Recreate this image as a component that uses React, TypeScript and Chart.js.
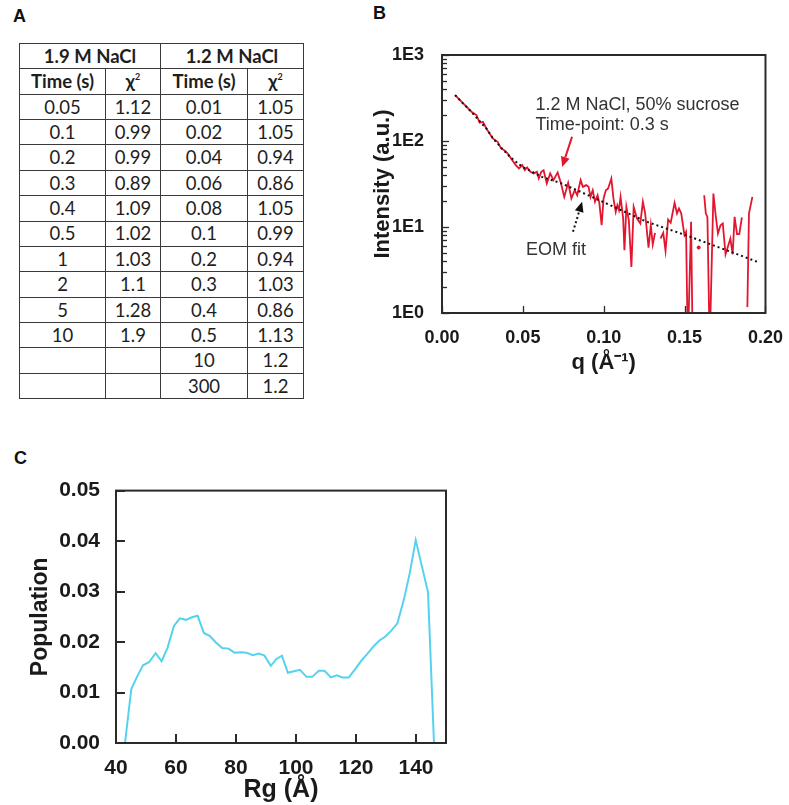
import React, { useEffect, useRef } from 'react';
import { Chart, registerables } from 'chart.js';

Chart.register(...registerables);

// ---------- Panel A: table ----------
const GROUPS = ['1.9 M NaCl', '1.2 M NaCl'];
const TIME_19 = ['0.05', '0.1', '0.2', '0.3', '0.4', '0.5', '1', '2', '5', '10', '', ''];
const CHI_19 = ['1.12', '0.99', '0.99', '0.89', '1.09', '1.02', '1.03', '1.1', '1.28', '1.9', '', ''];
const TIME_12 = ['0.01', '0.02', '0.04', '0.06', '0.08', '0.1', '0.2', '0.3', '0.4', '0.5', '10', '300'];
const CHI_12 = ['1.05', '1.05', '0.94', '0.86', '1.05', '0.99', '0.94', '1.03', '0.86', '1.13', '1.2', '1.2'];

// ---------- Panel B: SAXS curve (log intensity) ----------
const Q_DATA = [
  0.0081, 0.0131, 0.0182, 0.0213, 0.0233, 0.0253, 0.0274, 0.0314, 0.0344, 0.0365,
  0.0385, 0.0405, 0.0426, 0.0456, 0.0476, 0.0496, 0.0512, 0.0526, 0.0547, 0.0567,
  0.0587, 0.0598, 0.0614, 0.0628, 0.0648, 0.0669, 0.0689, 0.0715, 0.0736, 0.0756,
  0.078, 0.08, 0.0821, 0.0836, 0.0857, 0.0871, 0.0891, 0.0906, 0.0918, 0.0932,
  0.0946, 0.0962, 0.0973, 0.0987, 0.0999, 0.1013, 0.1027, 0.1047, 0.106, 0.1074,
  0.1084, 0.1094, 0.1104, 0.112, 0.1128, 0.114, 0.1155, 0.1171, 0.1185, 0.1205,
  0.1226, 0.1242, 0.1256, 0.1277, 0.1291, 0.1303, 0.1317, 0.1334, 0.1351, 0.1368,
  0.1382, 0.1398, 0.1414, 0.1438, 0.1453, 0.1465, 0.1479, 0.1499, 0.1509, 0.152,
  0.154, 0.155, 0.157, 0.1605, 0.1621, 0.1631, 0.1641, 0.1655, 0.1678, 0.1692,
  0.1706, 0.1722, 0.1736, 0.1753, 0.1783, 0.1797, 0.1809, 0.1824, 0.1838, 0.1854,
  0.187, 0.1888, 0.1898, 0.1919,
];
const I_DATA = [
  342, 274, 219, 200, 163, 167, 140, 107, 98, 82,
  78, 72, 63, 52.4, 48, 52.4, 45.8, 49.3, 43.8, 42,
  43.8, 36.7, 43.8, 45.8, 32.1, 42, 35.1, 43.1, 32.1, 22.4,
  32.6, 21.5, 26.8, 23.4, 35.1, 29.3, 30.7, 29.3, 22.4, 26.8,
  19.6, 23.4, 18.8, 10.5, 21.5, 26.8, 28.1, 36.7, 21.5, 15,
  17.9, 15.7, 22.4, 12.6, 5.37, 17.1, 12, 3.43, 17.1, 12.6,
  11, 19.6, 14.4, 5.77, 10.5, 6.25, 8.54, null, 7.35, 8.54,
  5.27, 12.2, 11.2, 19.1, 14.4, 16.4, 14.4, 8.03, 8.77, 0.4,
  11.5, 0.4, null, null, 23.4, 14.4, 13.1, 0.4, 24.5, 13.7,
  8.4, 10.5, 11, 4.82, 7.35, 4.82, 13.1, 8.25, 8.25, 12.9,
  null, 1.17, 14.4, 22.4,
];
const Q_DOT = [0.1587];
const I_DOT = [5.77];
const Q_FIT = [0.0081, 0.0131, 0.0182, 0.0233, 0.0274, 0.0314, 0.0365, 0.0426, 0.0496, 0.0618, 0.0739, 0.0902, 0.1064, 0.1266, 0.151, 0.1733, 0.1951];
const I_FIT = [342, 272, 218, 170, 140, 108, 84, 64, 50.1, 38.3, 32.1, 23.5, 17.1, 11.5, 8.0, 5.6, 3.93];
const Y_DECADES_B = [1, 10, 100, 1000];
const X_TICKS_B = [0, 0.05, 0.1, 0.15, 0.2];
const NOTE_LINES = ['1.2 M NaCl, 50% sucrose', 'Time-point: 0.3 s'];
const FIT_LABEL = 'EOM fit';

// ---------- Panel C: Rg distribution ----------
const RG = [
  43.0, 45.1, 47.0, 49.0, 51.0, 53.2, 55.2, 57.2, 59.3, 61.3,
  63.3, 65.3, 67.2, 69.3, 71.3, 73.3, 75.4, 77.5, 79.5, 81.5,
  83.5, 85.6, 87.6, 89.5, 91.6, 93.4, 95.3, 97.3, 99.3, 101.3,
  103.5, 105.4, 107.6, 109.5, 111.6, 113.6, 115.5, 117.6, 119.8, 121.9,
  123.7, 125.9, 127.8, 129.6, 131.7, 133.8, 136.0, 137.9, 139.9, 144.0, 146.0,
];
const POP = [
  0, 0.0107, 0.0131, 0.0154, 0.016, 0.0178, 0.0162, 0.0189, 0.0232, 0.0247,
  0.0244, 0.0249, 0.0252, 0.0218, 0.0212, 0.0199, 0.0188, 0.0187, 0.0179, 0.018,
  0.0179, 0.0174, 0.0177, 0.0173, 0.0153, 0.0166, 0.0173, 0.0139, 0.0142, 0.0145,
  0.0131, 0.0131, 0.0143, 0.0143, 0.013, 0.0134, 0.013, 0.013, 0.0147, 0.0164,
  0.0176, 0.0192, 0.0203, 0.021, 0.0222, 0.0237, 0.0285, 0.0336, 0.0402, 0.0299, 0,
];
const X_TICKS_C = [40, 60, 80, 100, 120, 140];
const Y_TICKS_C = [0, 0.01, 0.02, 0.03, 0.04, 0.05];

const RED = '#e4162f';
const CYAN = '#55d3ee';
const AXIS = '#2a2a2a';
const SANS = '"Liberation Sans", Arial, Helvetica, sans-serif';

function drawArrow(ctx: CanvasRenderingContext2D, x1: number, y1: number, x2: number, y2: number, color: string, dotted: boolean) {
  const ang = Math.atan2(y2 - y1, x2 - x1);
  const headLen = 10;
  const headW = 4.5;
  const bx = x2 - headLen * Math.cos(ang);
  const by = y2 - headLen * Math.sin(ang);
  ctx.save();
  ctx.strokeStyle = color;
  ctx.fillStyle = color;
  ctx.lineWidth = 2;
  if (dotted) ctx.setLineDash([2, 2.5]);
  ctx.beginPath();
  ctx.moveTo(x1, y1);
  ctx.lineTo(bx, by);
  ctx.stroke();
  ctx.setLineDash([]);
  ctx.beginPath();
  ctx.moveTo(x2, y2);
  ctx.lineTo(bx + headW * Math.sin(ang), by - headW * Math.cos(ang));
  ctx.lineTo(bx - headW * Math.sin(ang), by + headW * Math.cos(ang));
  ctx.closePath();
  ctx.fill();
  ctx.restore();
}

function SaxsChart() {
  const ref = useRef<HTMLCanvasElement | null>(null);
  useEffect(() => {
    if (!ref.current) return;
    const framePlugin = {
      id: 'frameB',
      afterDraw(chart: any) {
        const { ctx, chartArea: a, scales } = chart;
        const x = scales.x;
        const y = scales.y;
        ctx.save();
        // inward ticks
        ctx.strokeStyle = AXIS;
        ctx.lineWidth = 1.3;
        for (let d = 0; d < Y_DECADES_B.length - 1; d++) {
          for (let m = 2; m <= 9; m++) {
            const py = Math.round(y.getPixelForValue(m * Y_DECADES_B[d])) + 0.5;
            ctx.beginPath();
            ctx.moveTo(a.left, py);
            ctx.lineTo(a.left + 5, py);
            ctx.stroke();
          }
        }
        Y_DECADES_B.forEach((v) => {
          const py = Math.round(y.getPixelForValue(v)) + 0.5;
          ctx.beginPath();
          ctx.moveTo(a.left, py);
          ctx.lineTo(a.left + 7, py);
          ctx.stroke();
        });
        X_TICKS_B.forEach((v) => {
          const px = Math.round(x.getPixelForValue(v)) + 0.5;
          ctx.beginPath();
          ctx.moveTo(px, a.bottom);
          ctx.lineTo(px, a.bottom - 7);
          ctx.stroke();
        });
        // frame
        ctx.lineWidth = 2;
        ctx.strokeRect(a.left, a.top, a.right - a.left, a.bottom - a.top);
        // annotations
        ctx.fillStyle = '#333';
        ctx.font = '18px ' + SANS;
        ctx.textAlign = 'left';
        ctx.textBaseline = 'alphabetic';
        ctx.fillText(NOTE_LINES[0], x.getPixelForValue(0.0578), y.getPixelForValue(232));
        ctx.fillText(NOTE_LINES[1], x.getPixelForValue(0.0578), y.getPixelForValue(136));
        ctx.fillText(FIT_LABEL, x.getPixelForValue(0.0519), y.getPixelForValue(4.7));
        drawArrow(ctx, x.getPixelForValue(0.0804), y.getPixelForValue(112), x.getPixelForValue(0.0743), y.getPixelForValue(50), RED, false);
        drawArrow(ctx, x.getPixelForValue(0.081), y.getPixelForValue(8.8), x.getPixelForValue(0.0866), y.getPixelForValue(19.6), '#111', true);
        ctx.restore();
      },
    };
    const chart = new Chart(ref.current, {
      type: 'line',
      data: {
        datasets: [
          {
            label: 'EOM fit',
            data: Q_FIT.map((q, i) => ({ x: q, y: I_FIT[i] })),
            borderColor: '#111',
            borderWidth: 2,
            borderDash: [2, 3],
            pointRadius: 0,
            fill: false,
            order: 0,
          },
          {
            label: '1.2 M NaCl, 50% sucrose, 0.3 s',
            data: Q_DATA.map((q, i) => ({ x: q, y: I_DATA[i] })),
            borderColor: RED,
            borderWidth: 1.8,
            pointRadius: 0,
            spanGaps: false,
            fill: false,
            order: 1,
          },
          {
            label: 'isolated',
            data: Q_DOT.map((q, i) => ({ x: q, y: I_DOT[i] })),
            showLine: false,
            pointRadius: 2,
            pointBorderWidth: 0,
            backgroundColor: RED,
            borderColor: RED,
            order: 2,
          },
        ],
      },
      options: {
        responsive: false,
        animation: false,
        layout: { padding: { top: 25, right: 18, left: 0, bottom: 0 } },
        plugins: { legend: { display: false }, tooltip: { enabled: false } },
        scales: {
          x: {
            type: 'linear',
            min: 0,
            max: 0.2,
            grid: { display: false },
            border: { display: false },
            afterBuildTicks: (s: any) => {
              s.ticks = X_TICKS_B.map((v) => ({ value: v }));
            },
            afterFit: (s: any) => {
              s.height = 67;
            },
            ticks: {
              autoSkip: false,
              maxRotation: 0,
              padding: 6,
              color: '#1a1a1a',
              font: { family: SANS, size: 18, weight: 'bold' },
              callback: (v: any) => Number(v).toFixed(2),
            },
            title: {
              display: true,
              text: 'q (Å⁻¹)',
              color: '#1a1a1a',
              font: { family: SANS, size: 22, weight: 'bold' },
              padding: { top: 4, bottom: 4 },
            },
          },
          y: {
            type: 'logarithmic',
            min: 1,
            max: 1000,
            grid: { display: false },
            border: { display: false },
            afterBuildTicks: (s: any) => {
              s.ticks = Y_DECADES_B.map((v) => ({ value: v }));
            },
            afterFit: (s: any) => {
              s.width = 82;
            },
            ticks: {
              autoSkip: false,
              padding: 10,
              color: '#1a1a1a',
              font: { family: SANS, size: 18, weight: 'bold' },
              callback: (v: any) => '1E' + Math.round(Math.log10(Number(v))),
            },
            title: {
              display: true,
              text: 'Intensity (a.u.)',
              color: '#1a1a1a',
              font: { family: SANS, size: 22, weight: 'bold' },
              padding: { top: 10, bottom: 10 },
            },
          },
        },
      },
      plugins: [framePlugin],
    } as any);
    return () => chart.destroy();
  }, []);
  return <canvas ref={ref} width={429} height={350} style={{ position: 'absolute', left: 360, top: 30, width: 429, height: 350 }} />;
}

function RgChart() {
  const ref = useRef<HTMLCanvasElement | null>(null);
  useEffect(() => {
    if (!ref.current) return;
    const framePlugin = {
      id: 'frameC',
      afterDraw(chart: any) {
        const { ctx, chartArea: a, scales } = chart;
        ctx.save();
        ctx.strokeStyle = AXIS;
        ctx.lineWidth = 2;
        X_TICKS_C.forEach((v) => {
          const px = Math.round(scales.x.getPixelForValue(v));
          ctx.beginPath();
          ctx.moveTo(px, a.bottom);
          ctx.lineTo(px, a.bottom - 9);
          ctx.stroke();
        });
        Y_TICKS_C.forEach((v) => {
          const py = Math.round(scales.y.getPixelForValue(v));
          ctx.beginPath();
          ctx.moveTo(a.left, py);
          ctx.lineTo(a.left + 9, py);
          ctx.stroke();
        });
        ctx.strokeRect(a.left, a.top, a.right - a.left, a.bottom - a.top);
        ctx.restore();
      },
    };
    const chart = new Chart(ref.current, {
      type: 'line',
      data: {
        datasets: [
          {
            label: 'Population',
            data: RG.map((r, i) => ({ x: r, y: POP[i] })),
            borderColor: CYAN,
            borderWidth: 2,
            pointRadius: 0,
            fill: false,
          },
        ],
      },
      options: {
        responsive: false,
        animation: false,
        layout: { padding: { top: 14, right: 24, left: 0, bottom: 0 } },
        plugins: { legend: { display: false }, tooltip: { enabled: false } },
        scales: {
          x: {
            type: 'linear',
            min: 40,
            max: 150,
            grid: { display: false },
            border: { display: false },
            afterBuildTicks: (s: any) => {
              s.ticks = X_TICKS_C.map((v) => ({ value: v }));
            },
            afterFit: (s: any) => {
              s.height = 62;
            },
            ticks: {
              autoSkip: false,
              maxRotation: 0,
              padding: 5,
              color: '#1a1a1a',
              font: { family: SANS, size: 21, weight: 'bold' },
            },
            title: {
              display: true,
              text: 'Rg (Å)',
              color: '#1a1a1a',
              font: { family: SANS, size: 25, weight: 'bold' },
              padding: { top: 0, bottom: 0 },
            },
          },
          y: {
            type: 'linear',
            min: 0,
            max: 0.05,
            grid: { display: false },
            border: { display: false },
            afterBuildTicks: (s: any) => {
              s.ticks = Y_TICKS_C.map((v) => ({ value: v }));
            },
            afterFit: (s: any) => {
              s.width = 116;
            },
            ticks: {
              autoSkip: false,
              padding: 8,
              color: '#1a1a1a',
              font: { family: SANS, size: 21, weight: 'bold' },
              callback: (v: any) => Number(v).toFixed(2),
            },
            title: {
              display: true,
              text: 'Population',
              color: '#1a1a1a',
              font: { family: SANS, size: 23, weight: 'bold' },
              padding: { top: 27, bottom: 0 },
            },
          },
        },
      },
      plugins: [framePlugin],
    } as any);
    return () => chart.destroy();
  }, []);
  return <canvas ref={ref} width={470} height={335} style={{ position: 'absolute', left: 0, top: 470, width: 470, height: 335 }} />;
}

const cell: React.CSSProperties = {
  border: '1.5px solid #3a3a3a',
  padding: 0,
  textAlign: 'center',
  verticalAlign: 'middle',
};

function DataTable() {
  const rows = TIME_19.map((t, i) => [t, CHI_19[i], TIME_12[i], CHI_12[i]]);
  const chi = (
    <span>
      χ<sup style={{ fontSize: 9, verticalAlign: 'top', lineHeight: 1 }}>2</sup>
    </span>
  );
  return (
    <table
      style={{
        position: 'absolute',
        left: 19,
        top: 43,
        width: 284,
        height: 355,
        borderCollapse: 'collapse',
        tableLayout: 'fixed',
        fontFamily: 'Lato, "Open Sans", sans-serif',
        fontSize: 18.5,
        color: '#1e1e1e',
        lineHeight: 1,
      }}
    >
      <colgroup>
        <col style={{ width: 86 }} />
        <col style={{ width: 55 }} />
        <col style={{ width: 87 }} />
        <col style={{ width: 56 }} />
      </colgroup>
      <tbody>
        <tr style={{ height: 25.36 }}>
          <th colSpan={2} style={cell}>{GROUPS[0]}</th>
          <th colSpan={2} style={cell}>{GROUPS[1]}</th>
        </tr>
        <tr style={{ height: 25.36 }}>
          <th style={cell}>Time (s)</th>
          <th style={cell}>{chi}</th>
          <th style={cell}>Time (s)</th>
          <th style={cell}>{chi}</th>
        </tr>
        {rows.map((r, i) => (
          <tr key={i} style={{ height: 25.36 }}>
            {r.map((c, j) => (
              <td key={j} style={cell}>{c}</td>
            ))}
          </tr>
        ))}
      </tbody>
    </table>
  );
}

const panelLabel: React.CSSProperties = {
  position: 'absolute',
  fontFamily: SANS,
  fontWeight: 'bold',
  fontSize: 18,
  lineHeight: 1,
  color: '#111',
};

export default function App() {
  return (
    <div style={{ position: 'absolute', left: 0, top: 0, width: 789, height: 805, background: '#fff', overflow: 'hidden' }}>
      <div style={{ ...panelLabel, left: 13, top: 7 }}>A</div>
      <div style={{ ...panelLabel, left: 373, top: 4 }}>B</div>
      <div style={{ ...panelLabel, left: 14, top: 449 }}>C</div>
      <DataTable />
      <SaxsChart />
      <RgChart />
    </div>
  );
}
